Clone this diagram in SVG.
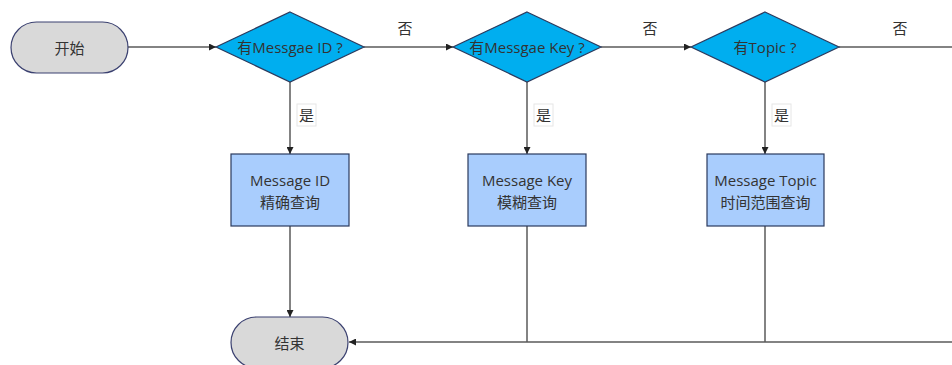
<svg xmlns="http://www.w3.org/2000/svg" width="952" height="365" viewBox="0 0 952 365">
<style>
text{font-family:"Open Sans","Noto Sans CJK SC",sans-serif;font-size:15px;fill:#333;text-anchor:middle;dominant-baseline:central}
.term{fill:#d9d9d9;stroke:#3b4170;stroke-width:1.2}
.dec{fill:#00aeef;stroke:#2b3a5e;stroke-width:1.2}
.proc{fill:#a9cdfd;stroke:#2b3a5e;stroke-width:1.2}
.ln{fill:none;stroke:#5a5a5a;stroke-width:1.5}
.lbl{fill:#fff;stroke:#e6e6e6;stroke-width:1}
</style>
<defs>
<marker id="arr" viewBox="0 0 10 10" refX="10" refY="5" markerWidth="7" markerHeight="7" markerUnits="userSpaceOnUse" orient="auto">
<path d="M0,0 L10,5 L0,10 z" fill="#222"/>
</marker>
</defs>
<g id="connectors">
<path class="ln" d="M128,47 H216" marker-end="url(#arr)"/>
<path class="ln" d="M364,47 H453" marker-end="url(#arr)"/>
<path class="ln" d="M601,47 H691" marker-end="url(#arr)"/>
<path class="ln" d="M839,47 H952"/>
<path class="ln" d="M290,82 V154" marker-end="url(#arr)"/>
<path class="ln" d="M527,82 V154" marker-end="url(#arr)"/>
<path class="ln" d="M765,82 V154" marker-end="url(#arr)"/>
<path class="ln" d="M290,226 V317" marker-end="url(#arr)"/>
<path class="ln" d="M527,226 V342"/>
<path class="ln" d="M765,226 V342"/>
<path class="ln" d="M952,342 H349" marker-end="url(#arr)"/>
<text x="405" y="28">否</text>
<text x="650" y="28">否</text>
<text x="900" y="28">否</text>
<rect class="lbl" x="297" y="104" width="19" height="22"/>
<text x="306.5" y="115">是</text>
<rect class="lbl" x="534" y="104" width="19" height="22"/>
<text x="543.5" y="115">是</text>
<rect class="lbl" x="772" y="104" width="19" height="22"/>
<text x="781.5" y="115">是</text>
</g>
<g id="start">
<rect class="term" x="11" y="22" width="117" height="51" rx="25.5"/>
<text x="69.5" y="47.5">开始</text>
</g>
<g id="d1">
<polygon class="dec" points="290,12 364,47 290,82 216,47"/>
<text x="290" y="47">有Messgae ID ?</text>
</g>
<g id="d2">
<polygon class="dec" points="527,12 601,47 527,82 453,47"/>
<text x="527" y="47">有Messgae Key ?</text>
</g>
<g id="d3">
<polygon class="dec" points="765,12 839,47 765,82 691,47"/>
<text x="765" y="47">有Topic ?</text>
</g>
<g id="p1">
<rect class="proc" x="231" y="154" width="118" height="72"/>
<text x="290" y="180">Message ID</text>
<text x="290" y="202">精确查询</text>
</g>
<g id="p2">
<rect class="proc" x="468" y="154" width="118" height="72"/>
<text x="527" y="180">Message Key</text>
<text x="527" y="202">模糊查询</text>
</g>
<g id="p3">
<rect class="proc" x="707" y="154" width="117" height="72"/>
<text x="765.5" y="180">Message Topic</text>
<text x="765.5" y="202">时间范围查询</text>
</g>
<g id="end">
<rect class="term" x="231" y="317" width="117" height="51" rx="25.5"/>
<text x="289.5" y="343">结束</text>
</g>
</svg>
